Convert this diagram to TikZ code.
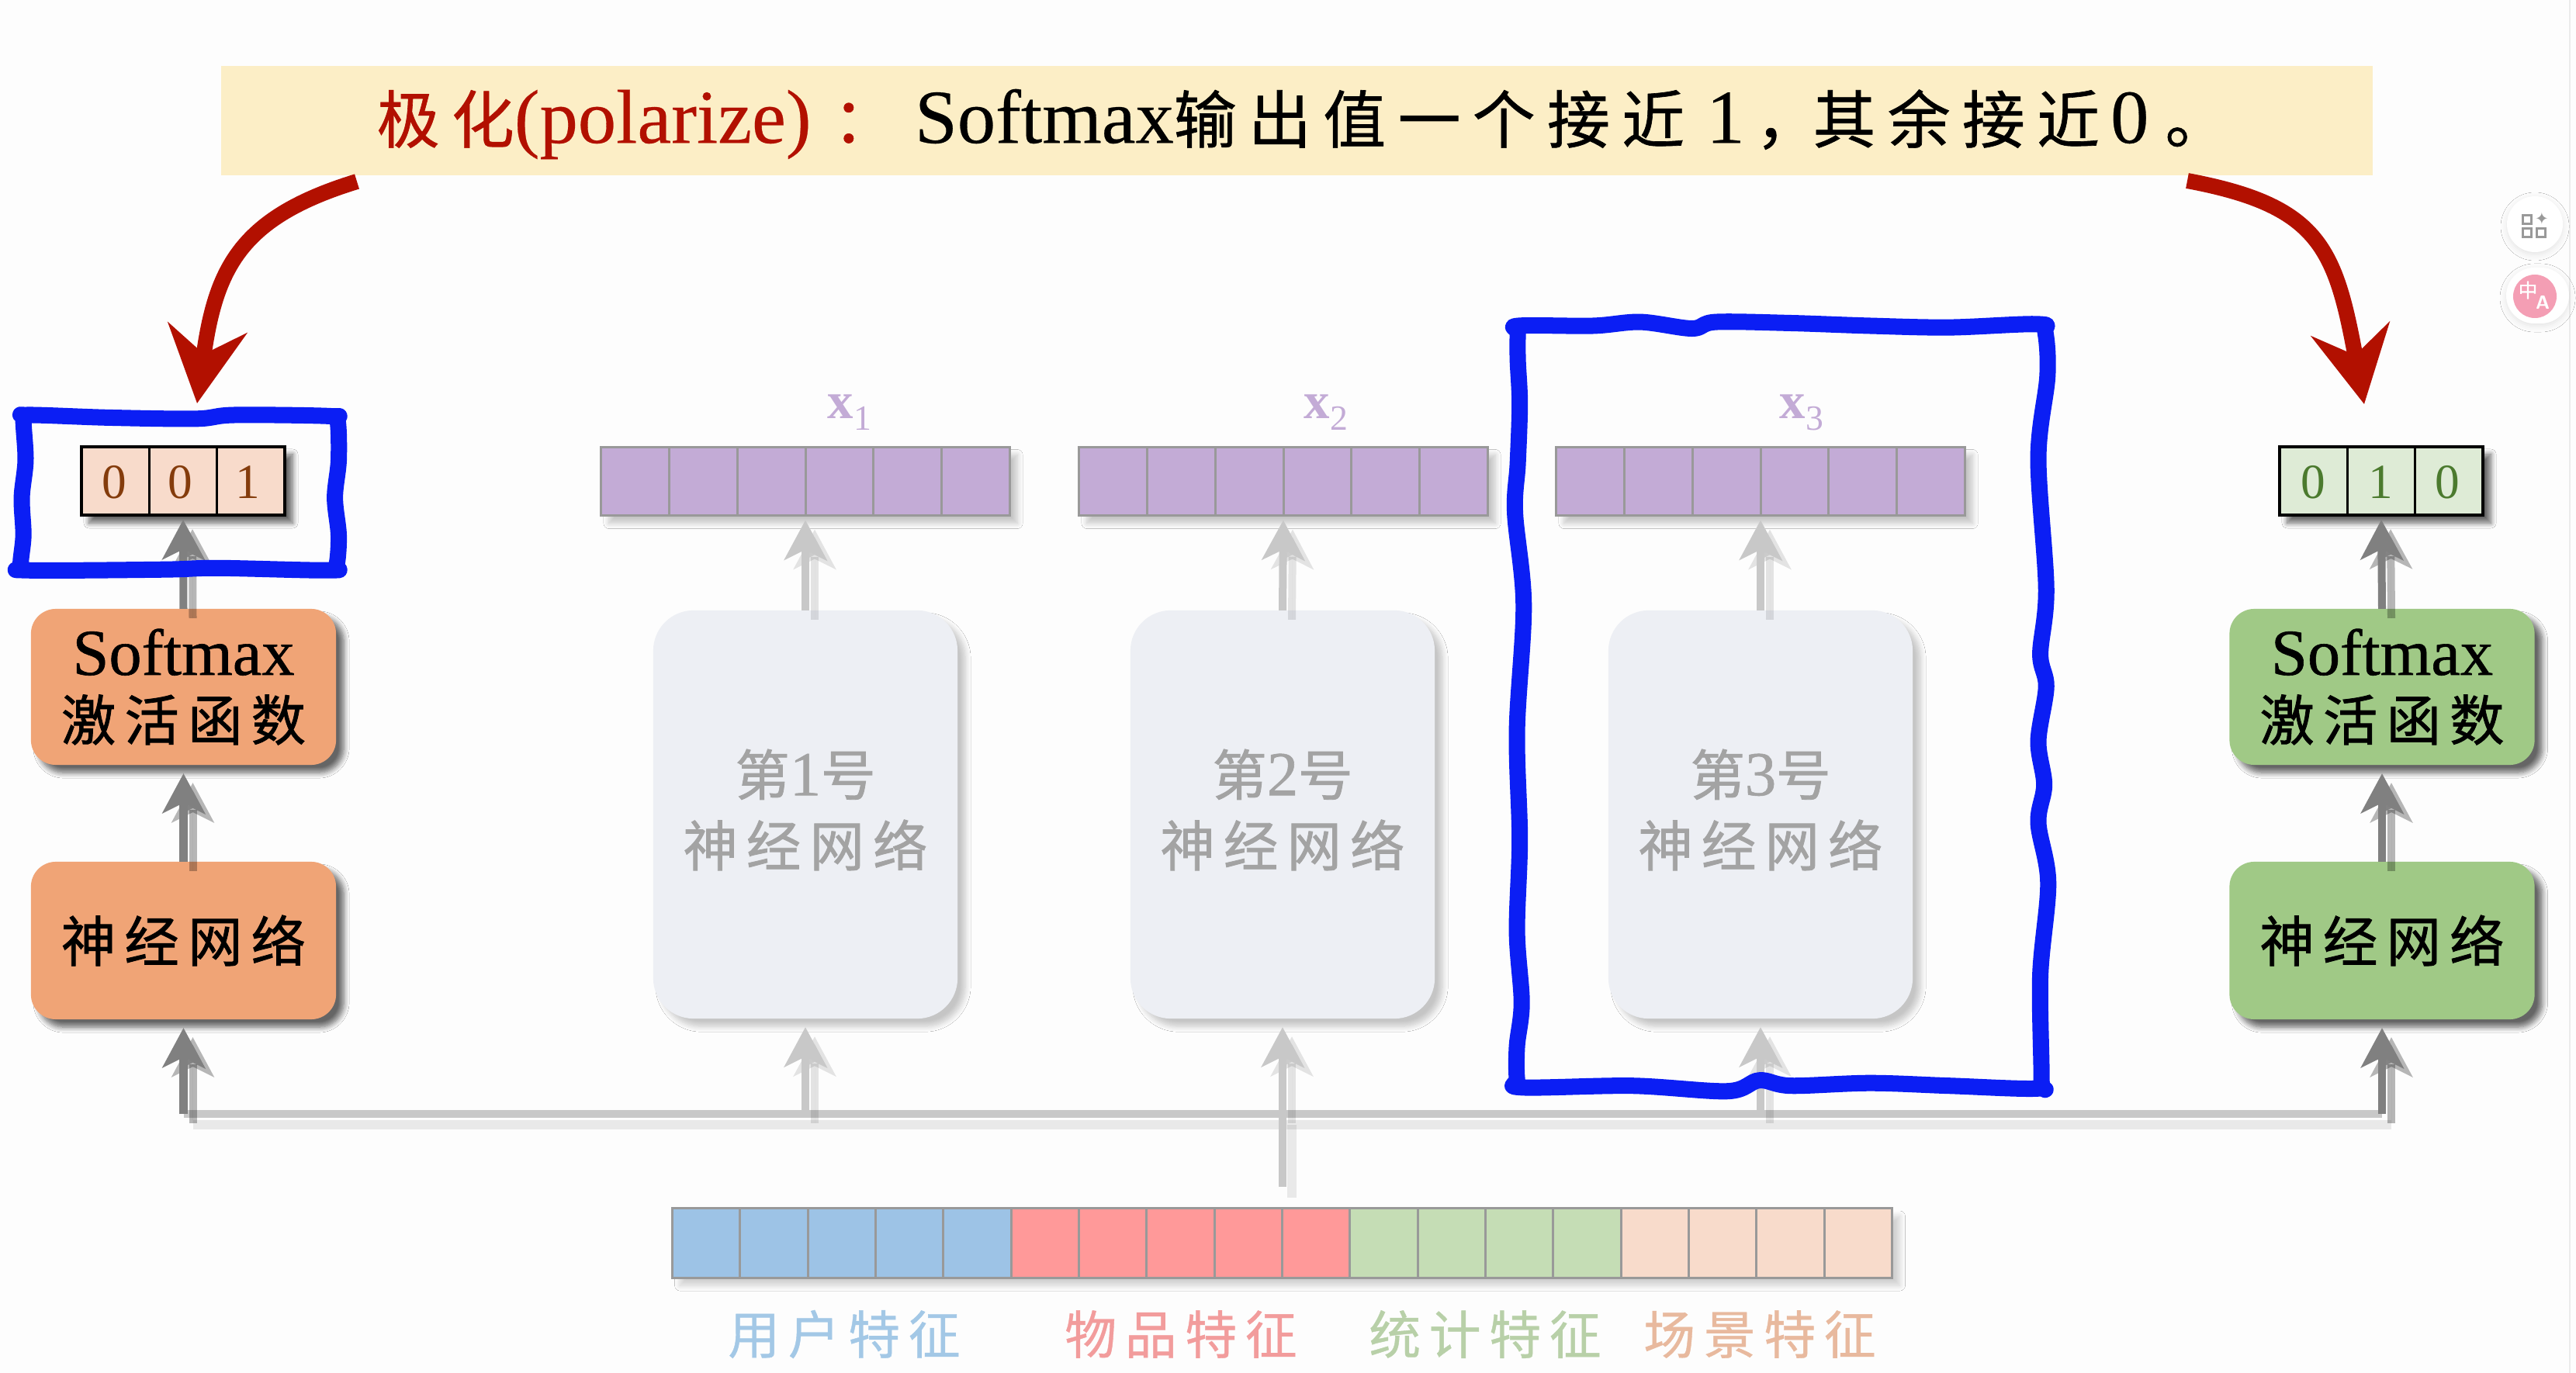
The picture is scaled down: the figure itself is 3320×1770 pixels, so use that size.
\documentclass[tikz,border=0pt]{standalone}
\usepackage{fontspec}
\setmainfont{Liberation Serif}
\newfontfamily\cjk[LetterSpace=16,FakeBold=1.2]{Noto Sans CJK SC}
\newfontfamily\cjkt[LetterSpace=19,FakeBold=.8]{Noto Sans CJK SC}
\newfontfamily\cjkl[LetterSpace=16,FakeBold=.6]{Noto Sans CJK SC}
\newfontfamily\latm[FakeBold=.7]{Liberation Serif}
\newfontfamily\lats[FakeBold=.3]{Liberation Serif}
\newfontfamily\dejavu{DejaVu Sans}
\newcommand\zh[1]{{\cjk #1}}
\newcommand\zt[1]{{\cjkt #1}}
\newcommand\ttl[1]{{\fontsize{28}{28}\lats #1}}
\usetikzlibrary{arrows.meta,shadows.blur,calc}
\definecolor{bgc}{HTML}{FDFDFD}
\definecolor{bannerc}{HTML}{FCEEC6}
\definecolor{redc}{HTML}{B21000}
\definecolor{bluec}{HTML}{0B1EF4}
\definecolor{orangec}{HTML}{F0A476}
\definecolor{greenc}{HTML}{A0C986}
\definecolor{faded}{HTML}{EDEFF4}
\definecolor{fadedtxt}{HTML}{A3A3A3}
\definecolor{purplec}{HTML}{C3ABD6}
\definecolor{darkarrow}{HTML}{808080}
\definecolor{lightarrow}{HTML}{C8C8C8}
\definecolor{peachc}{HTML}{F8DBCB}
\definecolor{mintc}{HTML}{DEEBD6}
\definecolor{blueft}{HTML}{9DC3E6}
\definecolor{redft}{HTML}{FF9999}
\definecolor{greenft}{HTML}{C5DDB5}
\definecolor{bluelab}{HTML}{A3C8E6}
\definecolor{redlab}{HTML}{F29C9C}
\definecolor{greenlab}{HTML}{B8D0A8}
\definecolor{peachlab}{HTML}{E8B99E}
\definecolor{brownd}{HTML}{843C0C}
\definecolor{greend}{HTML}{4B7A2E}
\definecolor{pinkc}{HTML}{F49EB4}
\tikzset{
  x=.01cm,y=-.01cm,
  softshadow/.style={blur shadow={shadow xshift=.1cm,shadow yshift=-.1cm,shadow blur radius=.07cm,shadow blur steps=8,shadow opacity=#1}},
  netbox/.style={rectangle,rounded corners=.32cm,minimum width=3.93cm,inner sep=0pt,outer sep=0pt,align=center,softshadow=60},
  fadebox/.style={rectangle,rounded corners=.52cm,minimum width=3.92cm,minimum height=5.26cm,inner sep=0pt,outer sep=0pt,fill=faded,softshadow=22},
  fadetext/.style={inner sep=0pt,align=center,text=fadedtxt,font=\fontsize{20}{26}\selectfont},
  vecbox/.style={rectangle,minimum height=.88cm,inner sep=0pt,outer sep=0pt},
  onehot/.style={vecbox,minimum width=2.62cm,draw=black,line width=.035cm,softshadow=60},
  purplevec/.style={vecbox,minimum width=5.26cm,fill=purplec,draw=gray!80,line width=.03cm,softshadow=22},
  featbar/.style={vecbox,minimum width=15.71cm,minimum height=.89cm,draw=gray!80,line width=.03cm,softshadow=18},
  celldiv/.style={line width=.03cm},
  digit/.style={font=\fontsize{18}{18}\selectfont,inner sep=0pt},
  featlab/.style={font=\fontsize{19}{19}\cjkl,inner sep=0pt},
  xlab/.style={text=purplec,inner sep=0pt,anchor=base},
  arr/.style={line width=.1cm,-{Stealth[length=.51cm,width=.54cm,inset=.13cm]}},
  sharr/.style={line width=.1cm,-{Stealth[length=.51cm,width=.54cm,inset=.13cm]},draw=black,fill=black,opacity=#1,transform canvas={xshift=.12cm,yshift=-.12cm}},
  stem/.style={line width=.1cm,draw=lightarrow},
  shstem/.style={line width=.12cm,draw=black,opacity=.08,transform canvas={xshift=.12cm,yshift=-.14cm}},
  redarrow/.style={line width=.2cm,draw=redc,-{Stealth[length=.98cm,width=1.02cm,inset=.34cm]}},
  scribble/.style={draw=bluec,line width=.21cm,line join=round},
}
\begin{document}
\begin{tikzpicture}
\useasboundingbox (0,0) rectangle (3320,1770);
\fill[bgc] (0,0) rectangle (3320,1770);

% banner
\node[rectangle,fill=bannerc,minimum width=27.71cm,minimum height=1.41cm,inner sep=0pt,outer sep=0pt] (banner) at (1671.5,155.5) {};
\node[anchor=west,inner sep=0pt] (title) at (485,160) {\fontsize{23}{28}\selectfont
  \textcolor{redc}{\zt{极化}\ttl{(polarize)}\hspace{8pt}\zt{：}}\hspace{7pt}%
  \ttl{Softmax}\zt{输出值一个接近}\hspace{8pt}\ttl{1}\hspace{4pt}\zt{，}\hspace{-2pt}\zt{其余接近}\hspace{4pt}\ttl{0}\hspace{6pt}\zt{。}};

% left and right output vectors
\node[onehot,fill=peachc] (vl) at (236,620) {};
\node[onehot,fill=mintc] (vr) at (3069,620) {};
\foreach \i in {1,2} {
  \draw[celldiv,black] ($(vl.south west)!\i/3!(vl.south east)$) -- ($(vl.north west)!\i/3!(vl.north east)$);
  \draw[celldiv,black] ($(vr.south west)!\i/3!(vr.south east)$) -- ($(vr.north west)!\i/3!(vr.north east)$);
}
\node[digit,text=brownd] (vl1) at (147,622) {0};
\node[digit,text=brownd] (vl2) at (232,622) {0};
\node[digit,text=brownd] (vl3) at (319,622) {1};
\node[digit,text=greend] (vr1) at (2981,622) {0};
\node[digit,text=greend] (vr2) at (3068,622) {1};
\node[digit,text=greend] (vr3) at (3154,622) {0};

% left and right boxes
\node[netbox,fill=orangec,minimum height=2.01cm] (sl) at (236.5,885.5) {\fontsize{24}{25}\latm Softmax\\[6pt]\fontsize{20}{25}\selectfont\zh{激活函数}};
\node[netbox,fill=orangec,minimum height=2.03cm] (nl) at (236.5,1212.5) {\fontsize{20}{25}\selectfont\zh{神经网络}};
\node[netbox,fill=greenc,minimum height=2.01cm] (sr) at (3070,885.5) {\fontsize{24}{25}\latm Softmax\\[6pt]\fontsize{20}{25}\selectfont\zh{激活函数}};
\node[netbox,fill=greenc,minimum height=2.03cm] (nr) at (3070,1212.5) {\fontsize{20}{25}\selectfont\zh{神经网络}};

% faded networks and vectors
\node[fadebox] (f1) at (1038,1050) {};
\node[fadebox] (f2) at (1653,1050) {};
\node[fadebox] (f3) at (2269,1050) {};
\node[fadetext] (t1) at (1038,1044) {\zh{第}\fontsize{23}{26}\latm 1\fontsize{20}{26}\selectfont\zh{号}\\\zh{神经网络}};
\node[fadetext] (t2) at (1653,1044) {\zh{第}\fontsize{23}{26}\latm 2\fontsize{20}{26}\selectfont\zh{号}\\\zh{神经网络}};
\node[fadetext] (t3) at (2269,1044) {\zh{第}\fontsize{23}{26}\latm 3\fontsize{20}{26}\selectfont\zh{号}\\\zh{神经网络}};
\node[purplevec] (p1) at (1038,620.5) {};
\node[purplevec] (p2) at (1654,620.5) {};
\node[purplevec] (p3) at (2269,620.5) {};
\foreach \v in {p1,p2,p3} \foreach \i in {1,...,5}
  \draw[celldiv,gray!80] ($(\v.south west)!\i/6!(\v.south east)$) -- ($(\v.north west)!\i/6!(\v.north east)$);
\node[xlab] (x1) at (1095,540) {\fontsize{19}{19}\selectfont\bfseries x\raisebox{-4pt}{\fontsize{13}{13}\selectfont\mdseries 1}};
\node[xlab] (x2) at (1709,540) {\fontsize{19}{19}\selectfont\bfseries x\raisebox{-4pt}{\fontsize{13}{13}\selectfont\mdseries 2}};
\node[xlab] (x3) at (2322,540) {\fontsize{19}{19}\selectfont\bfseries x\raisebox{-4pt}{\fontsize{13}{13}\selectfont\mdseries 3}};

% feature bar
\node[featbar,fill=blueft] (bar) at (1652.5,1602.5) {};
\fill[redft] ($(bar.north west)!5/18!(bar.north east)$) rectangle ($(bar.south west)!10/18!(bar.south east)$);
\fill[greenft] ($(bar.north west)!10/18!(bar.north east)$) rectangle ($(bar.south west)!14/18!(bar.south east)$);
\fill[peachc] ($(bar.north west)!14/18!(bar.north east)$) rectangle (bar.south east);
\draw[line width=.03cm,gray!80] (bar.north west) rectangle (bar.south east);
\foreach \i in {1,...,17}
  \draw[celldiv,gray!80] ($(bar.south west)!\i/18!(bar.south east)$) -- ($(bar.north west)!\i/18!(bar.north east)$);
\node[featlab,text=bluelab] (l1) at (1088,1720) {用户特征};
\node[featlab,text=redlab] (l2) at (1522,1720) {物品特征};
\node[featlab,text=greenlab] (l3) at (1914,1720) {统计特征};
\node[featlab,text=peachlab] (l4) at (2268,1720) {场景特征};

% connectors
\coordinate (jl) at (236.5,1436);
\coordinate (jr) at (3070,1436);
\coordinate (j1) at (1038,1436);
\coordinate (j2) at (1653,1436);
\coordinate (j3) at (2269,1436);
\coordinate (barstem) at (1653,1530);
\draw[shstem] (jl) -- (jr);
\draw[shstem] (barstem) -- (j2);
\draw[stem] (jl) -- (jr);
\draw[stem] (barstem) -- (j2);
\foreach \a/\b/\s in {j1/f1.south/.11cm, j2/f2.south/.11cm, j3/f3.south/.11cm,
  f1.north/p1.south/.06cm, f2.north/p2.south/.06cm, f3.north/p3.south/.06cm} {
  \draw[sharr=.1,shorten >=\s] (\a) -- (\b);
  \draw[arr,draw=lightarrow,fill=lightarrow,shorten >=\s] (\a) -- (\b);
}
\foreach \a/\b/\s in {jl/nl.south/.11cm, nl.north/sl.south/.11cm, sl.north/vl.south/.06cm,
  jr/nr.south/.11cm, nr.north/sr.south/.11cm, sr.north/vr.south/.06cm} {
  \draw[sharr=.28,shorten >=\s] (\a) -- (\b);
  \draw[arr,draw=darkarrow,fill=darkarrow,shorten >=\s] (\a) -- (\b);
}

% red arrows
\coordinate (ls) at (460,234);
\coordinate (lc1) at (310,280);
\coordinate (lc2) at (278,345);
\coordinate (lt) at (254,520);
\coordinate (rs) at (2819,233);
\coordinate (rc1) at (2990,265);
\coordinate (rc2) at (3010,320);
\coordinate (rt) at (3047,521);
\draw[redarrow] (ls) .. controls (lc1) and (lc2) .. (lt);
\draw[redarrow] (rs) .. controls (rc1) and (rc2) .. (rt);

% hand-drawn blue outlines
\begin{scope}[shift={(1900,380)},xscale=.5102,yscale=.7018]
\draw[scribble] plot[smooth cycle,tension=.55] coordinates {
 (112,57)(300,57)(420,50)(550,62)(610,50)(800,52)(1000,57)(1200,60)(1425,54)
 (1443,70)(1448,150)(1425,300)(1445,540)(1430,660)(1445,720)(1425,820)(1440,900)(1425,970)(1450,1080)(1430,1250)(1433,1440)
 (1425,1458)(1200,1453)(1000,1448)(800,1453)(720,1443)(640,1463)(400,1453)(120,1456)
 (108,1440)(108,1380)(120,1300)(108,1170)(115,1000)(108,800)(125,570)(103,400)(110,310)(115,200)(110,120)(110,70)};
\end{scope}
\begin{scope}[shift={(0,60)},xscale=.7018,yscale=.4847]
\draw[scribble] plot[smooth cycle,tension=.55] coordinates {
 (50,980)(200,987)(360,990)(430,980)(606,983)
 (620,995)(622,1100)(615,1200)(622,1300)(618,1380)
 (605,1393)(400,1387)(300,1391)(50,1393)
 (38,1380)(43,1300)(40,1200)(47,1100)(43,992)};
\end{scope}

% screen overlay widgets at the right edge
\draw[line width=.02cm,black!8] (3312,0) -- (3312,1770);
\fill[white,blur shadow={shadow xshift=0cm,shadow yshift=-.03cm,shadow blur radius=.08cm,shadow opacity=10}] (3267,289) circle[radius=36];
\fill[white,rounded corners=.36cm,blur shadow={shadow xshift=0cm,shadow yshift=-.03cm,shadow blur radius=.08cm,shadow opacity=10}] (3230,345) rectangle (3311,417);
\foreach \p in {(3257,283),(3257,300),(3275,300)}
  \draw[line width=.03cm,black!40] \p ++(-5.5,-5.5) rectangle ++(11,11);
\node[inner sep=0pt,text=black!40,font=\fontsize{6}{6}\dejavu] (spark) at (3276,282) {✦};
\fill[pinkc] (3267,382) circle[radius=28];
\node[inner sep=0pt,text=white,font=\fontsize{7}{7}\selectfont\cjkl] (zhmark) at (3258,374) {中};
\node[inner sep=0pt,text=white,font=\fontsize{7}{7}\bfseries\sffamily] (amark) at (3277,390) {A};
\end{tikzpicture}
\end{document}
